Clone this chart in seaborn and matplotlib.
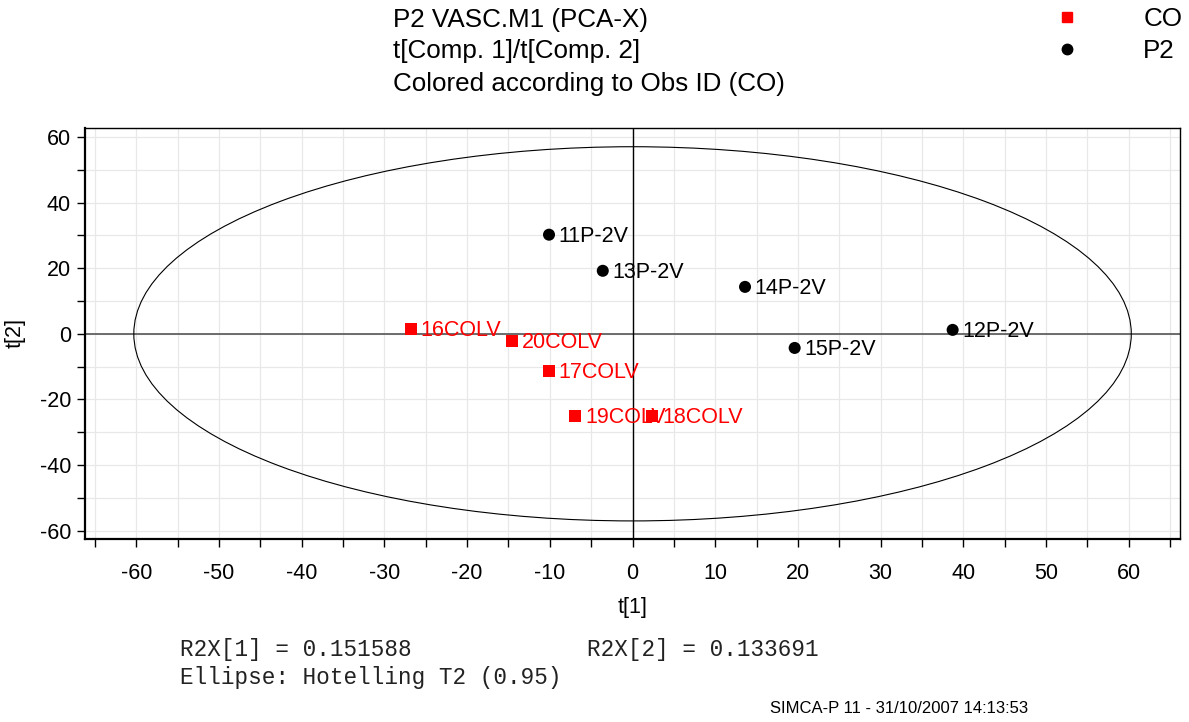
import numpy as np
import pandas as pd
import matplotlib.pyplot as plt
from matplotlib.lines import Line2D
from matplotlib.patches import Ellipse
from matplotlib.ticker import MultipleLocator
import seaborn as sns

sns.set_theme(style='white', rc={'text.color': 'black', 'axes.labelcolor': 'black',
                                 'xtick.color': 'black', 'ytick.color': 'black'})
plt.rcParams['font.family'] = ['Liberation Sans', 'DejaVu Sans']
plt.rcParams['axes.unicode_minus'] = False

# score values
obs_names = ['16COLV', '20COLV', '17COLV', '19COLV', '18COLV',
             '11P-2V', '13P-2V', '14P-2V', '12P-2V', '15P-2V']
t1 = [-26.8, -14.6, -10.1, -6.9, 2.4,
      -10.1, -3.6, 13.6, 38.7, 19.6]
t2 = [1.5, -2.1, -11.3, -25.0, -25.0,
      30.2, 19.2, 14.3, 1.2, -4.3]
groups = ['CO'] * 5 + ['P2'] * 5

ellipse_a = 60.3
ellipse_b = 57.0

df = pd.DataFrame({'name': obs_names, 't1': t1, 't2': t2, 'group': groups})
colors = {'CO': '#ff0000', 'P2': '#000000'}
markers = {'CO': 's', 'P2': 'o'}

fig = plt.figure(figsize=(11.89, 7.22), dpi=100)
ax = fig.add_axes([0.0715, 0.2535, 0.921, 0.5692])

ax.add_patch(Ellipse((0, 0), 2 * ellipse_a, 2 * ellipse_b, fill=False,
                     edgecolor='black', linewidth=0.8, zorder=2))
ax.axhline(0, color='#555555', linewidth=1.2, zorder=1)
ax.axvline(0, color='black', linewidth=1.0, zorder=1)

sns.scatterplot(data=df, x='t1', y='t2', hue='group', style='group',
                palette=colors, markers=markers, s=75, edgecolor='none',
                legend=False, ax=ax, zorder=3)

for _, row in df.iterrows():
    ax.annotate(row['name'], (row['t1'], row['t2']), xytext=(7, -1),
                textcoords='offset points', va='center', ha='left',
                fontsize=15.5, color=colors[row['group']], zorder=4)

ax.set_xlim(-66.2, 66.2)
ax.set_ylim(-62.5, 62.7)
ax.xaxis.set_major_locator(MultipleLocator(10))
ax.xaxis.set_minor_locator(MultipleLocator(5))
ax.yaxis.set_major_locator(MultipleLocator(20))
ax.yaxis.set_minor_locator(MultipleLocator(10))
ax.grid(True, which='both', color='#e8e8e8', linewidth=0.9, zorder=0)
ax.set_axisbelow(True)
ax.tick_params(axis='both', which='both', direction='out', length=6,
               width=1, color='black', labelsize=15.5, labelcolor='black',
               bottom=True, left=True)
ax.tick_params(axis='x', pad=11)
ax.tick_params(axis='y', pad=4)
for sp in ax.spines.values():
    sp.set_color('black')
    sp.set_linewidth(1.0)
ax.spines['left'].set_linewidth(1.6)
ax.spines['bottom'].set_linewidth(1.6)
ax.set_xlabel('t[1]', fontsize=15.5, labelpad=10, color='black')
ax.set_ylabel('t[2]', fontsize=15.5, labelpad=10, color='black')

fig.text(0.3305, 0.972, 'P2 VASC.M1 (PCA-X)', fontsize=18.7, va='center')
fig.text(0.3305, 0.930, 't[Comp. 1]/t[Comp. 2]', fontsize=18.7, va='center')
fig.text(0.3305, 0.883, 'Colored according to Obs ID (CO)', fontsize=18.7, va='center')

handles = [Line2D([], [], linestyle='none', marker=markers[g], color=colors[g],
                  markersize=7.5) for g in ['CO', 'P2']]
fig.legend(handles, ['CO', 'P2'], loc='upper right', bbox_to_anchor=(1.0096, 1.016),
           frameon=False, fontsize=18.7, handletextpad=1.95, labelspacing=0.34,
           borderaxespad=0.3)

fig.text(0.151, 0.101, 'R2X[1] = 0.151588', family='Liberation Mono',
         fontsize=16.3, va='center', color='#222222')
fig.text(0.494, 0.101, 'R2X[2] = 0.133691', family='Liberation Mono',
         fontsize=16.3, va='center', color='#222222')
fig.text(0.151, 0.062, 'Ellipse: Hotelling T2 (0.95)', family='Liberation Mono',
         fontsize=16.3, va='center', color='#222222')
fig.text(0.648, 0.019, 'SIMCA-P 11 - 31/10/2007 14:13:53', fontsize=12,
         va='center')

fig.savefig('out.png', dpi=100)
